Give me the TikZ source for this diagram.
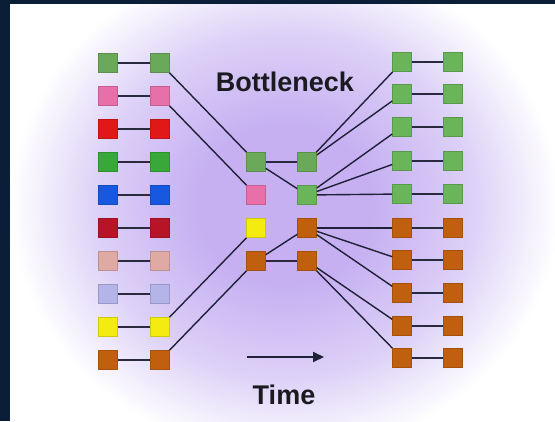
\documentclass[tikz,border=0pt]{standalone}
\usepackage{fontspec}
\setmainfont{Liberation Sans}
\usetikzlibrary{arrows.meta}
\definecolor{frame}{HTML}{0A1E38}
\definecolor{glowc}{HTML}{C6B0F2}
\definecolor{glowm}{HTML}{DCD0F7}
\definecolor{gA}{HTML}{6AA85A}
\definecolor{gB}{HTML}{38A838}
\definecolor{gR}{HTML}{6AB45A}
\definecolor{pnk}{HTML}{E870A8}
\definecolor{rd}{HTML}{E01818}
\definecolor{blu}{HTML}{1858E0}
\definecolor{drd}{HTML}{B81428}
\definecolor{lpk}{HTML}{E0AAA4}
\definecolor{lav}{HTML}{B4B4E8}
\definecolor{yel}{HTML}{F4EC10}
\definecolor{brn}{HTML}{C0600E}
\definecolor{ink}{HTML}{202038}
\definecolor{txt}{HTML}{1A1A20}
\pgfdeclareradialshading{glow}{\pgfpoint{0bp}{0bp}}{color(0bp)=(glowc); color(8bp)=(glowc); color(17bp)=(glowm); color(25bp)=(white); color(50bp)=(white)}
\tikzset{
  sq/.style={rectangle, minimum size=19pt, inner sep=0pt, fill=#1, draw=#1!85!black, line width=0.6pt},
  link/.style={draw=ink, line width=1.4pt},
  pair/.style={draw=ink!90!gray, line width=1.8pt},
  lbl/.style={font=\fontsize{27}{30}\selectfont\bfseries, text=txt}
}
\begin{document}
\begin{tikzpicture}[x=1pt,y=-1pt]
\useasboundingbox (0,0) rectangle (555,421);
\fill[frame] (0,0) rectangle (555,421);
\fill[white] (10,4) rectangle (555,421);
\begin{scope}
\clip (10,4) rectangle (555,421);
\shade[shading=glow] (285,205) ellipse [x radius=275, y radius=250];
\end{scope}
% left columns
\foreach \i/\c/\y in {1/gA/63,2/pnk/96,3/rd/129,4/gB/162,5/blu/195,6/drd/228,7/lpk/261,8/lav/294,9/yel/327,10/brn/360}{
  \node[sq=\c] (l1-\i) at (108,\y) {};
  \node[sq=\c] (l2-\i) at (160,\y) {};
}
% right columns
\foreach \i/\c/\y in {1/gR/62,2/gR/94,3/gR/127,4/gR/161,5/gR/194,6/brn/228,7/brn/260,8/brn/293,9/brn/326,10/brn/358}{
  \node[sq=\c] (r1-\i) at (402,\y) {};
  \node[sq=\c] (r2-\i) at (453,\y) {};
}
% bottleneck
\node[sq=gA] (ma-1) at (256,162) {};
\node[sq=pnk] (ma-2) at (256,195) {};
\node[sq=yel] (ma-3) at (256,228) {};
\node[sq=brn] (ma-4) at (256,261) {};
\node[sq=gA] (mb-1) at (307,162) {};
\node[sq=gR] (mb-2) at (307,195) {};
\node[sq=brn] (mb-3) at (307,228) {};
\node[sq=brn] (mb-4) at (307,261) {};
% pair lines
\foreach \i in {1,...,10}{
  \draw[pair] (l1-\i) -- (l2-\i);
  \draw[pair] (r1-\i) -- (r2-\i);
}
\draw[pair] (ma-1) -- (mb-1);
\draw[pair] (ma-4) -- (mb-4);
% lineages
\draw[link] (l2-1) -- (ma-1);
\draw[link] (l2-2) -- (ma-2);
\draw[link] (l2-9) -- (ma-3);
\draw[link] (l2-10) -- (ma-4);
\draw[link] (ma-1) -- (mb-2);
\draw[link] (ma-4) -- (mb-3);
\draw[link] (mb-1) -- (r1-1);
\draw[link] (mb-1) -- (r1-2);
\draw[link] (mb-2) -- (r1-3);
\draw[link] (mb-2) -- (r1-4);
\draw[link] (mb-2) -- (r1-5);
\draw[link] (mb-3) -- (r1-6);
\draw[link] (mb-3) -- (r1-7);
\draw[link] (mb-3) -- (r1-8);
\draw[link] (mb-4) -- (r1-9);
\draw[link] (mb-4) -- (r1-10);
% labels
\node[lbl] (bn) at (285,82) {Bottleneck};
\node[lbl] (tm) at (284,395) {Time};
\coordinate (ta) at (247,357);
\coordinate (tb) at (324,357);
\draw[draw=ink, line width=2pt, -{Triangle[length=11pt,width=10pt]}] (ta) -- (tb);
\end{tikzpicture}
\end{document}
